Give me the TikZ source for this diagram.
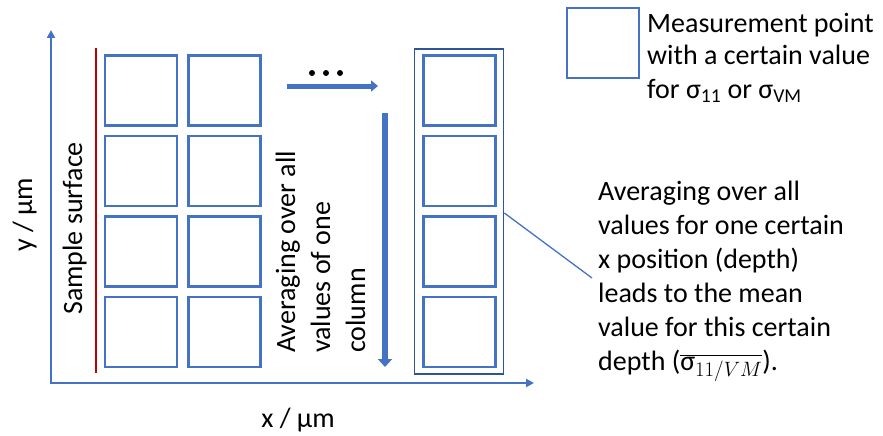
\documentclass[tikz,border=0pt]{standalone}
\usepackage{fontspec}
\setmainfont{Carlito}
\usetikzlibrary{arrows.meta}
\definecolor{oblue}{HTML}{4472C4}
\definecolor{dblue}{HTML}{2F5597}
\definecolor{ored}{HTML}{C00000}
\tikzset{
  cell/.style={draw=oblue, line width=2.6pt, minimum width=72pt, minimum height=70pt, inner sep=0pt},
  axis/.style={draw=oblue, line width=2pt, -{Triangle[length=8pt,width=8pt]}},
  lbl/.style={font=\fontsize{28}{34}\selectfont, inner sep=0pt, text=black},
  multi/.style={lbl, align=left}
}
\begin{document}
\begin{tikzpicture}[x=1pt,y=-1pt]
\useasboundingbox (0,0) rectangle (883,436);
% axes
\coordinate (O) at (51,383);
\coordinate (Ytip) at (51,30);
\coordinate (Xtip) at (534,383);
\draw[axis] (O) -- (Ytip);
\draw[axis] ([xshift=-1pt]O) -- (Xtip);
\node[lbl, rotate=90, anchor=base] (ylab) at (32,215) {y / µm};
\node[lbl, anchor=base] (xlab) at (298,427) {x / µm};
% sample surface
\coordinate (s1) at (96,48);
\coordinate (s2) at (96,373);
\draw[ored, line width=2pt] (s1) -- (s2);
\node[lbl, rotate=90, anchor=base west] (surf) at (82,315) {Sample surface};
% grid of cells
\foreach \r/\y in {1/90.5,2/171,3/251.5,4/332}{
  \node[cell] (a\r) at (141,\y) {};
  \node[cell] (b\r) at (224.5,\y) {};
  \node[cell] (c\r) at (459.5,\y) {};
}
% outer rectangle of averaged column
\node[draw=dblue, line width=1.6pt, inner sep=0pt, minimum width=89pt, minimum height=325pt] (col) at (459,211.5) {};
% dots and arrows
\foreach \xx in {312,326,340}{\fill[black] (\xx,73) circle (3pt);}
\coordinate (h1) at (287,86);
\coordinate (h2) at (378,86);
\draw[oblue, line width=5pt, -{Triangle[length=7pt,width=11pt]}] (h1) -- (h2);
\coordinate (v1) at (385,113);
\coordinate (v2) at (385,367);
\draw[oblue, line width=6.5pt, -{Triangle[length=8pt,width=14pt]}] (v1) -- (v2);
\node[multi, font=\fontsize{28}{35}\selectfont, rotate=90, anchor=base west] (avgcol) at (365,353) {Averaging over all\\values of one\\column};
% legend
\node[draw=oblue, line width=2.2pt, minimum width=72pt, minimum height=70pt, inner sep=0pt] (leg) at (603,43) {};
\node[multi, font=\fontsize{28}{33}\selectfont, anchor=base west] (legtext) at (647,98) {Measurement point\\with a certain value\\for σ\textsubscript{11} or σ\textsubscript{VM}};
% explanation
\node[multi, anchor=base west] (expl) at (598,370) {Averaging over all\\values for one certain\\x position (depth)\\leads to the mean\\value for this certain\\depth ($\overline{\mbox{σ}_{11/VM}}$).};
\coordinate (ce) at (592,278);
\draw[oblue, line width=1.3pt] (col.east |- 0,213) -- (ce);
\end{tikzpicture}
\end{document}
